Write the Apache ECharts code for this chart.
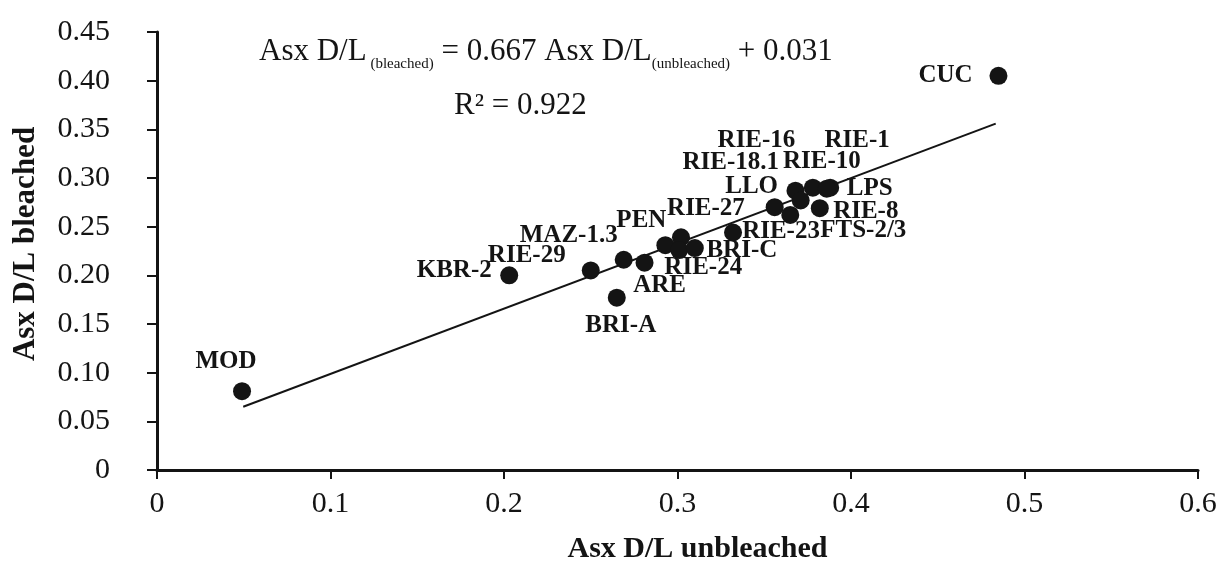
<!DOCTYPE html>
<html>
<head>
<meta charset="utf-8">
<script src="https://cdn.jsdelivr.net/npm/echarts@6/dist/echarts.min.js"></script>
<style>
  html, body { margin: 0; padding: 0; background: #fff; }
  #chart { width: 1222px; height: 569px; }
</style>
</head>
<body>
<div id="chart"></div>
<script>
// sites
var sites = ['MOD', 'KBR-2', 'RIE-29', 'MAZ-1.3', 'BRI-A', 'ARE', 'PEN', 'RIE-27', 'RIE-24', 'BRI-C',
    'RIE-23', 'LLO', 'FTS-2/3', 'RIE-16', 'RIE-18.1', 'RIE-10', 'RIE-1', 'LPS', 'RIE-8', 'CUC'];
var unbleached = [0.049, 0.203, 0.250, 0.269, 0.265, 0.281, 0.293, 0.302, 0.301, 0.310,
    0.332, 0.356, 0.365, 0.368, 0.371, 0.378, 0.388, 0.386, 0.382, 0.485];
var bleached = [0.081, 0.200, 0.205, 0.216, 0.177, 0.213, 0.231, 0.239, 0.226, 0.228,
    0.244, 0.270, 0.262, 0.287, 0.277, 0.290, 0.290, 0.289, 0.269, 0.405];

// trendline ends as drawn
var trendX = [0.0497, 0.4834];
var trendY = [0.065, 0.3558];

// where each label sits relative to its dot (px)
var labelOffsets = {
    'MOD': [-16, -30], 'KBR-2': [-55, -5], 'RIE-29': [-64, -15], 'MAZ-1.3': [-55, -24],
    'BRI-A': [4, 28], 'ARE': [15, 23], 'PEN': [-24, -25], 'RIE-27': [25, -29],
    'RIE-24': [24, 18], 'BRI-C': [47, 2], 'RIE-23': [48, -1], 'LLO': [-23, -21],
    'FTS-2/3': [73, 16], 'RIE-16': [-39, -50], 'RIE-18.1': [-70, -38], 'RIE-10': [9, -26],
    'RIE-1': [27, -47], 'LPS': [43, 0], 'RIE-8': [46, 3], 'CUC': [-53, 0]
};

var serif = '"Liberation Serif", "Times New Roman", serif';
var ink = '#141414';

var points = sites.map(function (s, i) {
    return {
        name: s,
        value: [unbleached[i], bleached[i]],
        label: { offset: labelOffsets[s] }
    };
});

var chart = echarts.init(document.getElementById('chart'));
chart.setOption({
    animation: false,
    grid: { left: 157, right: 24, top: 32, bottom: 96 },
    xAxis: {
        type: 'value', min: 0, max: 0.6, interval: 0.1,
        name: 'Asx D/L unbleached', nameLocation: 'middle', nameGap: 64,
        nameTextStyle: { fontFamily: serif, fontSize: 30, fontWeight: 'bold', color: ink, padding: [0, 0, 0, 40] },
        axisLine: { lineStyle: { color: ink, width: 3 } },
        axisTick: { inside: false, length: 9, lineStyle: { color: ink, width: 2 } },
        axisLabel: {
            margin: 19, fontFamily: serif, fontSize: 30, color: ink,
            formatter: function (v) { return v === 0 ? '0' : v.toFixed(1); }
        },
        splitLine: { show: false }
    },
    yAxis: {
        type: 'value', min: 0, max: 0.45, interval: 0.05,
        name: 'Asx D/L bleached', nameLocation: 'middle', nameGap: 116, nameRotate: 90,
        nameTextStyle: { fontFamily: serif, fontSize: 31, fontWeight: 'bold', color: ink, padding: [0, 0, 0, 14] },
        axisLine: { show: true, lineStyle: { color: ink, width: 3 } },
        axisTick: { show: true, inside: false, length: 10, lineStyle: { color: ink, width: 2 } },
        axisLabel: {
            margin: 47, fontFamily: serif, fontSize: 30, color: ink,
            formatter: function (v) { return v === 0 ? '0' : v.toFixed(2); }
        },
        splitLine: { show: false }
    },
    series: [
        {
            type: 'line',
            data: [[trendX[0], trendY[0]], [trendX[1], trendY[1]]],
            showSymbol: false,
            symbol: 'none',
            lineStyle: { color: ink, width: 2 },
            silent: true,
            z: 1
        },
        {
            type: 'scatter',
            data: points,
            symbolSize: 18,
            itemStyle: { color: ink, opacity: 1 },
            label: {
                show: true,
                position: 'inside',
                formatter: '{b}',
                fontFamily: serif,
                fontSize: 25,
                fontWeight: 'bold',
                color: ink,
                opacity: 1
            },
            z: 2
        }
    ],
    graphic: [
        {
            type: 'text', left: 259, top: 36,
            style: {
                text: 'Asx D/L{sub| (bleached)} = 0.667 Asx D/L{sub|(unbleached)} + 0.031',
                font: '31px ' + serif,
                fill: ink,
                rich: {
                    sub: { fontFamily: serif, fontSize: 15, fill: ink, verticalAlign: 'bottom', lineHeight: 40 }
                }
            }
        },
        {
            type: 'text', left: 454, top: 90,
            style: { text: 'R² = 0.922', font: '31px ' + serif, fill: ink }
        }
    ]
});
</script>
</body>
</html>
